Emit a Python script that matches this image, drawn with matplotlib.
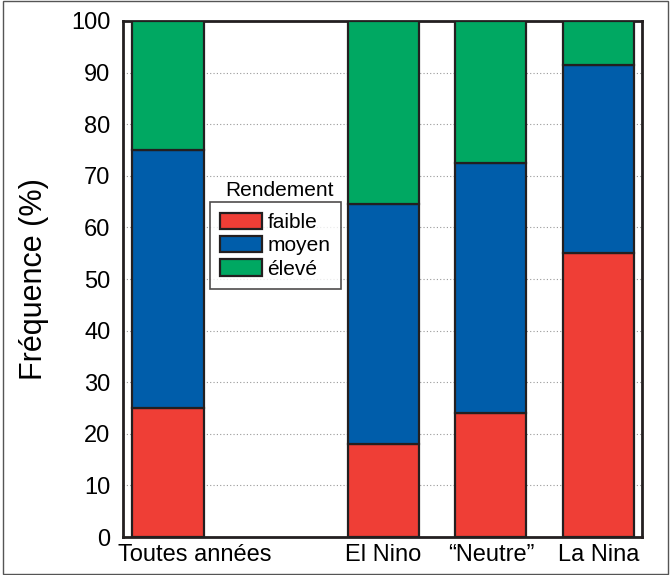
import numpy as np
import matplotlib
matplotlib.use("Agg")
import matplotlib.pyplot as plt
import matplotlib.transforms as mtransforms
from matplotlib.patches import Rectangle

plt.rcParams['font.family'] = ['Liberation Sans', 'DejaVu Sans']

# donnees
categories = ["Toutes années", "El Nino", "\u201cNeutre\u201d", "La Nina"]
positions = [0, 2, 3, 4]
faible = [25, 18, 24, 55]
moyen = [50, 46.5, 48.5, 36.5]
eleve = [25, 35.5, 27.5, 8.5]
series_noms = ["faible", "moyen", "élevé"]
couleurs = ["#EF3E36", "#005DAA", "#00A862"]

fig = plt.figure(figsize=(6.71, 5.75), dpi=100)
ax = fig.add_axes([0.183, 0.066, 0.774, 0.8975])

bas = np.zeros(len(categories))
for vals, nom, c in zip([faible, moyen, eleve], series_noms, couleurs):
    ax.bar(positions, vals, bottom=bas, width=0.66, color=c,
           edgecolor="#231F20", linewidth=1.6, label=nom, zorder=3)
    bas = bas + np.array(vals)

ax.set_xlim(-0.42, 4.405)
ax.set_ylim(0, 100)
ax.set_yticks(np.arange(0, 101, 10))
ax.set_xticks(positions)
ax.set_xticklabels(categories, fontsize=17)
ax.tick_params(axis='y', labelsize=17, length=0, pad=9)
ax.tick_params(axis='x', length=0, pad=5)
ax.yaxis.grid(True, linestyle=(0, (1, 2)), color="#999999", linewidth=0.8, zorder=0)
ax.set_ylabel("Fréquence (%)", fontsize=22, labelpad=16)
for s in ax.spines.values():
    s.set_linewidth(2)
    s.set_color("#231F20")

# decaler "Toutes années" vers la droite comme dans l'original
lab0 = ax.get_xticklabels()[0]
lab0.set_transform(lab0.get_transform() + mtransforms.ScaledTranslation(0.27, 0, fig.dpi_scale_trans))

leg = ax.legend(loc="upper left", bbox_to_anchor=(0.168, 0.649), fontsize=15,
                frameon=True, fancybox=False, edgecolor="#231F20",
                handlelength=2.0, handleheight=0.85, borderpad=0.5,
                labelspacing=0.18, handletextpad=0.25, borderaxespad=0)
leg.get_frame().set_linewidth(1.2)
ax.text(0.302, 0.66, "Rendement", transform=ax.transAxes, fontsize=15,
        ha="center", va="baseline")

# cadre autour de la figure
fig.patches.append(Rectangle((0.004, 0.002), 0.992, 0.996, transform=fig.transFigure,
                             fill=False, edgecolor="#555555", linewidth=1))

fig.savefig("out.png", dpi=100)
